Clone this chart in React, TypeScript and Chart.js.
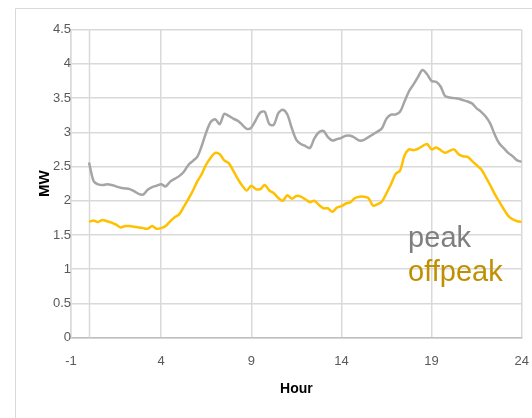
import React, { useEffect, useRef } from "react";
import { Chart, registerables } from "chart.js";

Chart.register(...registerables);

const hours = [
  0, 0.25, 0.5, 0.75, 1, 1.25, 1.5, 1.75, 2, 2.25, 2.5, 2.75, 3, 3.25, 3.5, 3.75,
  4, 4.25, 4.5, 4.75, 5, 5.25, 5.5, 5.75, 6, 6.25, 6.5, 6.75, 7, 7.25, 7.5, 7.75,
  8, 8.25, 8.5, 8.75, 9, 9.25, 9.5, 9.75, 10, 10.25, 10.5, 10.75, 11, 11.25, 11.5, 11.75,
  12, 12.25, 12.5, 12.75, 13, 13.25, 13.5, 13.75, 14, 14.25, 14.5, 14.75, 15, 15.25, 15.5, 15.75,
  16, 16.25, 16.5, 16.75, 17, 17.25, 17.5, 17.75, 18, 18.25, 18.5, 18.75, 19, 19.25, 19.5, 19.75,
  20, 20.25, 20.5, 20.75, 21, 21.25, 21.5, 21.75, 22, 22.25, 22.5, 22.75, 23, 23.25, 23.5, 23.75,
  24,
];

const peak = [
  2.56, 2.29, 2.24, 2.23, 2.24, 2.23, 2.21, 2.19, 2.18, 2.17, 2.14, 2.10, 2.09, 2.16, 2.20, 2.22,
  2.24, 2.21, 2.28, 2.32, 2.36, 2.42, 2.52, 2.58, 2.64, 2.80, 3.00, 3.15, 3.19, 3.12, 3.27, 3.24,
  3.20, 3.17, 3.11, 3.05, 3.07, 3.18, 3.29, 3.30, 3.12, 3.11, 3.28, 3.33, 3.26, 3.06, 2.89, 2.83,
  2.80, 2.77, 2.91, 3.00, 3.02, 2.93, 2.88, 2.90, 2.92, 2.95, 2.95, 2.92, 2.88, 2.89, 2.93, 2.97,
  3.01, 3.06, 3.20, 3.26, 3.26, 3.30, 3.45, 3.60, 3.70, 3.81, 3.91, 3.85, 3.75, 3.74, 3.67, 3.53,
  3.51, 3.50, 3.49, 3.47, 3.45, 3.42, 3.35, 3.30, 3.23, 3.13, 2.97, 2.84, 2.77, 2.70, 2.65, 2.59,
  2.57,
];

const offpeak = [
  1.69, 1.71, 1.69, 1.72, 1.70, 1.68, 1.65, 1.61, 1.63, 1.63, 1.62, 1.61, 1.60, 1.59, 1.63, 1.59,
  1.60, 1.63, 1.70, 1.76, 1.80, 1.91, 2.02, 2.14, 2.28, 2.39, 2.53, 2.63, 2.70, 2.68, 2.59, 2.55,
  2.44, 2.32, 2.22, 2.15, 2.22, 2.17, 2.17, 2.23, 2.15, 2.11, 2.04, 2.00, 2.08, 2.03, 2.07, 2.06,
  2.02, 1.98, 2.00, 1.94, 1.89, 1.89, 1.84, 1.90, 1.92, 1.96, 1.98, 2.04, 2.06, 2.06, 2.04, 1.93,
  1.95, 1.99, 2.11, 2.24, 2.39, 2.44, 2.66, 2.75, 2.74, 2.76, 2.80, 2.83, 2.75, 2.78, 2.74, 2.70,
  2.73, 2.75, 2.68, 2.65, 2.64, 2.58, 2.52, 2.46, 2.35, 2.23, 2.10, 1.99, 1.88, 1.78, 1.73, 1.70,
  1.69,
];

const seriesNames = ["peak", "offpeak"];
const lineColors = ["#A5A5A5", "#FFC000"];
const legendColors = ["#7F7F7F", "#BF9000"];
const xTitle = "Hour";
const yTitle = "MW";

const framePlugin = {
  id: "frame",
  beforeDraw(chart: any) {
    const ctx = chart.ctx;
    ctx.save();
    ctx.fillStyle = "#ffffff";
    ctx.fillRect(0, 0, chart.width, chart.height);
    ctx.strokeStyle = "#D9D9D9";
    ctx.lineWidth = 1;
    ctx.beginPath();
    ctx.moveTo(15.5, chart.height);
    ctx.lineTo(15.5, 8.5);
    ctx.lineTo(chart.width, 8.5);
    ctx.stroke();
    ctx.restore();
  },
  beforeDatasetsDraw(chart: any) {
    const ctx = chart.ctx;
    const xs = chart.scales.x;
    const ys = chart.scales.y;
    const px = Math.round(xs.getPixelForValue(0)) + 0.5;
    ctx.save();
    ctx.strokeStyle = "#D9D9D9";
    ctx.lineWidth = 1.5;
    ctx.beginPath();
    ctx.moveTo(px, ys.getPixelForValue(4.5));
    ctx.lineTo(px, ys.getPixelForValue(0));
    ctx.stroke();
    ctx.restore();
  },
  afterDraw(chart: any) {
    const ctx = chart.ctx;
    const xs = chart.scales.x;
    const ys = chart.scales.y;
    ctx.save();
    ctx.font = "29px 'Liberation Sans', Arial, sans-serif";
    ctx.textAlign = "left";
    ctx.textBaseline = "alphabetic";
    const lx = xs.getPixelForValue(17.7);
    ctx.fillStyle = legendColors[0];
    ctx.fillText(seriesNames[0], lx, ys.getPixelForValue(1.32));
    ctx.fillStyle = legendColors[1];
    ctx.fillText(seriesNames[1], lx, ys.getPixelForValue(0.83));
    ctx.restore();
  },
};

export default function App() {
  const ref = useRef<HTMLCanvasElement | null>(null);

  useEffect(() => {
    if (!ref.current) return;
    const chart = new Chart(ref.current, {
      type: "line",
      data: {
        datasets: [
          {
            label: seriesNames[0],
            data: hours.map((h, i) => ({ x: h, y: peak[i] })),
            borderColor: lineColors[0],
            backgroundColor: lineColors[0],
            borderWidth: 2.5,
            pointRadius: 0,
            tension: 0.3,
          },
          {
            label: seriesNames[1],
            data: hours.map((h, i) => ({ x: h, y: offpeak[i] })),
            borderColor: lineColors[1],
            backgroundColor: lineColors[1],
            borderWidth: 2.5,
            pointRadius: 0,
            tension: 0.3,
          },
        ],
      },
      options: {
        responsive: false,
        animation: false,
        layout: { padding: { left: 0, right: 10.3, top: 29.7, bottom: 0 } },
        plugins: {
          legend: { display: false },
          tooltip: { enabled: false },
          title: { display: false },
        },
        scales: {
          x: {
            type: "linear",
            min: -1,
            max: 24,
            ticks: {
              stepSize: 5,
              color: "#595959",
              font: { size: 13, family: "'Liberation Sans', Arial, sans-serif" },
              padding: 3,
              maxRotation: 0,
            },
            grid: {
              color: "#D9D9D9",
              lineWidth: 1.5,
              drawTicks: true,
              tickLength: 13,
              tickColor: "rgba(0,0,0,0)",
            },
            border: { color: "#BFBFBF", width: 1.5 },
            title: {
              display: true,
              text: xTitle,
              color: "#000000",
              font: { size: 14, weight: "bold", family: "'Liberation Sans', Arial, sans-serif" },
              padding: { top: 0, bottom: 20 },
            },
            afterFit(scale: any) {
              scale.height = 80.4;
            },
          },
          y: {
            type: "linear",
            min: 0,
            max: 4.5,
            ticks: {
              stepSize: 0.5,
              color: "#595959",
              font: { size: 13, family: "'Liberation Sans', Arial, sans-serif" },
              padding: 0,
              callback: (v: any) => String(Number(v)),
            },
            grid: { color: "#D9D9D9", lineWidth: 1.5, drawTicks: false },
            border: { color: "#D9D9D9", width: 1.5 },
            title: {
              display: true,
              text: yTitle,
              color: "#000000",
              font: { size: 15, weight: "bold", family: "'Liberation Sans', Arial, sans-serif" },
              padding: { top: 36, bottom: 0 },
            },
            afterFit(scale: any) {
              scale.width = 71;
            },
          },
        },
      },
      plugins: [framePlugin],
    });
    return () => chart.destroy();
  }, []);

  return (
    <div style={{ position: "fixed", left: 0, top: 0, width: 532, height: 418, background: "#fff" }}>
      <canvas ref={ref} width={532} height={418} style={{ display: "block" }} />
    </div>
  );
}
